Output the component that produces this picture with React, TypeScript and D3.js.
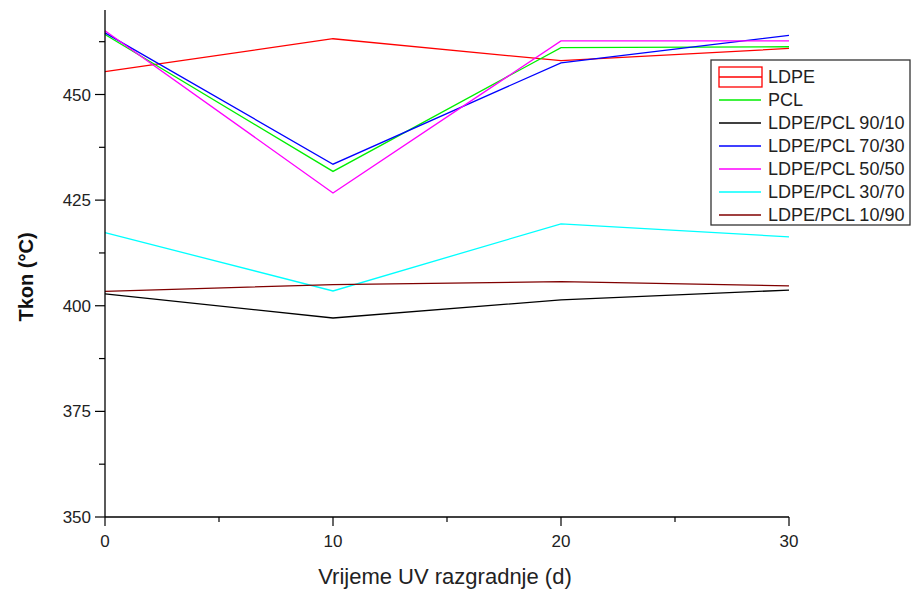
import React from "react";
import * as d3 from "d3";

const days = [0, 10, 20, 30];
const seriesNames = [
  "LDPE",
  "PCL",
  "LDPE/PCL 90/10",
  "LDPE/PCL 70/30",
  "LDPE/PCL 50/50",
  "LDPE/PCL 30/70",
  "LDPE/PCL 10/90",
];
const ldpe = [455.4, 463.2, 458.0, 460.9];
const pcl = [464.2, 431.8, 461.1, 461.3];
const b9010 = [402.8, 397.1, 401.4, 403.7];
const b7030 = [464.6, 433.5, 457.5, 464.0];
const b5050 = [465.1, 426.7, 462.7, 462.7];
const b3070 = [417.3, 403.5, 419.4, 416.3];
const b1090 = [403.4, 405.0, 405.7, 404.7];
const seriesColors = ["#ff0000", "#00ee00", "#000000", "#0000ff", "#ff00ff", "#00ffff", "#800000"];
const yTicks = [350, 375, 400, 425, 450];
const xTicks = [0, 10, 20, 30];

const W = 912;
const H = 590;
const left = 105;
const right = 789;
const top = 10;
const bottom = 517;

export default function App() {
  const x = d3.scaleLinear().domain([0, 30]).range([left, right]);
  const y = d3.scaleLinear().domain([350, 470]).range([bottom, top]);
  const allSeries = [ldpe, pcl, b9010, b7030, b5050, b3070, b1090];
  const line = d3
    .line<number>()
    .x((_, i) => x(days[i]))
    .y((d) => y(d));
  const yMinor = d3.range(362.5, 470, 25);
  const xMinor = d3.range(5, 30, 10);
  const font = "'Liberation Sans', Arial, sans-serif";
  const legX = 711;
  const legY = 60;
  const rowH = 23;

  return (
    <svg
      width={W}
      height={H}
      style={{ position: "absolute", left: 0, top: 0, background: "#fff" }}
      fontFamily={font}
    >
      {/* series order: draw so that top ones appear similar */}
      {allSeries.map((s, i) => (
        <path key={i} d={line(s) || ""} fill="none" stroke={seriesColors[i]} strokeWidth={1.3} />
      ))}

      {/* axes */}
      <line x1={left} x2={left} y1={top} y2={bottom} stroke="#000" strokeWidth={1.3} />
      <line x1={left} x2={right} y1={bottom} y2={bottom} stroke="#000" strokeWidth={1.3} />
      {yTicks.map((t) => (
        <g key={"y" + t}>
          <line x1={left - 10} x2={left} y1={y(t)} y2={y(t)} stroke="#000" strokeWidth={1.2} />
          <text x={left - 14} y={y(t)} dy="0.36em" textAnchor="end" fontSize={17} fill="#222">
            {t}
          </text>
        </g>
      ))}
      {yMinor.map((t) => (
        <line key={"ym" + t} x1={left - 6} x2={left} y1={y(t)} y2={y(t)} stroke="#000" strokeWidth={1.2} />
      ))}
      {xTicks.map((t) => (
        <g key={"x" + t}>
          <line x1={x(t)} x2={x(t)} y1={bottom} y2={bottom + 9} stroke="#000" strokeWidth={1.2} />
          <text x={x(t)} y={547} textAnchor="middle" fontSize={17} fill="#222">
            {t}
          </text>
        </g>
      ))}
      {xMinor.map((t) => (
        <line key={"xm" + t} x1={x(t)} x2={x(t)} y1={bottom} y2={bottom + 5} stroke="#000" strokeWidth={1.2} />
      ))}

      {/* axis titles */}
      <text x={445} y={584} textAnchor="middle" fontSize={22} fill="#222">
        Vrijeme UV razgradnje (d)
      </text>
      <text
        transform={`translate(33, 277) rotate(-90)`}
        textAnchor="middle"
        fontSize={20}
        fontWeight="bold"
        fill="#111"
      >
        Tkon (°C)
      </text>

      {/* legend */}
      <rect x={legX} y={legY} width={199} height={165} fill="#fff" stroke="#333" strokeWidth={1.3} />
      {seriesNames.map((n, i) => {
        const cy = legY + 17 + i * rowH;
        return (
          <g key={n}>
            {i === 0 ? (
              <g>
                <rect x={legX + 8} y={cy - 10} width={43} height={20} fill="none" stroke={seriesColors[0]} strokeWidth={1.3} />
                <line x1={legX + 8} x2={legX + 51} y1={cy} y2={cy} stroke={seriesColors[0]} strokeWidth={1.3} />
              </g>
            ) : (
              <line x1={legX + 8} x2={legX + 50} y1={cy} y2={cy} stroke={seriesColors[i]} strokeWidth={1.4} />
            )}
            <text x={legX + 57} y={cy} dy="0.36em" fontSize={18} fill="#222">
              {n}
            </text>
          </g>
        );
      })}
    </svg>
  );
}
